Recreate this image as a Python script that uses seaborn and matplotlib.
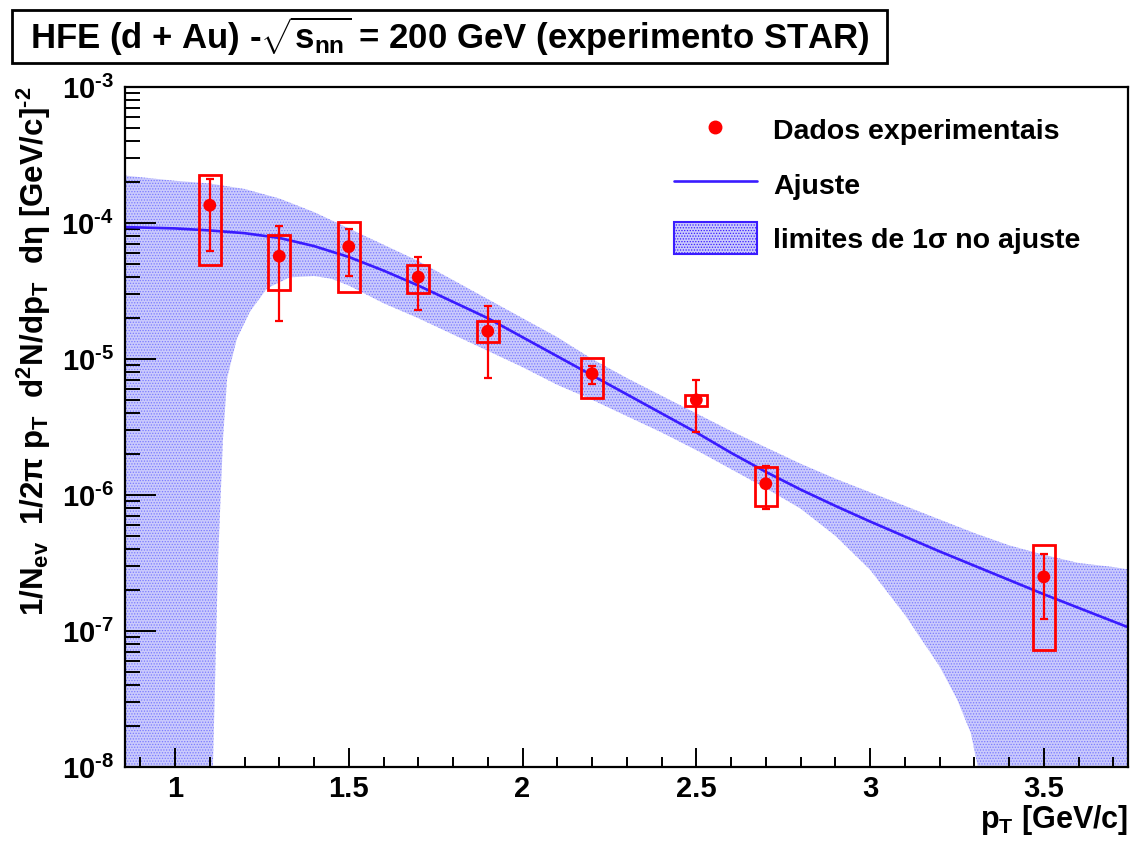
import numpy as np
import pandas as pd
import matplotlib
matplotlib.use('Agg')
import matplotlib.pyplot as plt
from matplotlib.patches import Rectangle, Polygon
from matplotlib.lines import Line2D
from matplotlib.ticker import MultipleLocator, NullFormatter, FuncFormatter, FixedLocator
import seaborn as sns

# ---------------- data ----------------
pt = [1.1, 1.3, 1.5, 1.7, 1.9, 2.2, 2.5, 2.7, 3.5]
yld = [1.35e-4, 5.7e-5, 6.7e-5, 4.0e-5, 1.6e-5, 7.8e-6, 5.0e-6, 1.21e-6, 2.5e-7]
stat_hi = [2.1e-4, 9.5e-5, 9.1e-5, 5.6e-5, 2.45e-5, 8.9e-6, 7.0e-6, 1.62e-6, 3.7e-7]
stat_lo = [6.2e-5, 1.9e-5, 4.1e-5, 2.3e-5, 7.2e-6, 6.5e-6, 2.9e-6, 7.9e-7, 1.23e-7]
sys_hi = [2.24e-4, 8.2e-5, 1.02e-4, 4.9e-5, 1.9e-5, 1.02e-5, 5.4e-6, 1.6e-6, 4.3e-7]
sys_lo = [4.9e-5, 3.2e-5, 3.1e-5, 3.05e-5, 1.33e-5, 5.2e-6, 4.5e-6, 8.3e-7, 7.3e-8]
sys_halfwidth = 0.032

fit_x = [0.85, 1.0, 1.1, 1.2, 1.3, 1.4, 1.5, 1.6, 1.7, 1.8, 1.9, 2.0, 2.1, 2.2, 2.3,
         2.4, 2.5, 2.6, 2.7, 2.8, 2.9, 3.0, 3.1, 3.2, 3.3, 3.4, 3.5, 3.6, 3.7, 3.75]
fit_log = [-4.03, -4.04, -4.055, -4.075, -4.11, -4.17, -4.25, -4.35, -4.46, -4.58,
           -4.70, -4.84, -4.98, -5.12, -5.26, -5.40, -5.54, -5.69, -5.83, -5.96,
           -6.08, -6.195, -6.305, -6.415, -6.52, -6.625, -6.73, -6.83, -6.93, -6.98]
up_log = [-3.65, -3.69, -3.71, -3.75, -3.82, -3.92, -4.04, -4.16, -4.28, -4.42,
          -4.56, -4.70, -4.84, -5.00, -5.14, -5.27, -5.40, -5.53, -5.65, -5.77,
          -5.88, -5.98, -6.08, -6.18, -6.28, -6.37, -6.44, -6.50, -6.53, -6.55]
low_x = [0.85, 1.105, 1.109, 1.124, 1.138, 1.15, 1.178, 1.216, 1.265, 1.33, 1.4, 1.45,
         1.5, 1.6, 1.7, 1.8, 1.9, 2.0, 2.1, 2.2, 2.3, 2.4, 2.5, 2.6, 2.7, 2.8, 2.9,
         3.0, 3.1, 3.2, 3.25, 3.29, 3.31, 3.315, 3.75]
low_log = [-12, -12, -8.0, -6.47, -5.585, -5.14, -4.85, -4.65, -4.48, -4.40, -4.39, -4.41,
           -4.46, -4.59, -4.70, -4.82, -4.94, -5.06, -5.19, -5.30, -5.42, -5.54, -5.67,
           -5.81, -5.95, -6.10, -6.30, -6.55, -6.88, -7.26, -7.50, -7.75, -8.0, -12, -12]

xticks_major = [1, 1.5, 2, 2.5, 3, 3.5]
xtick_labels = ["1", "1.5", "2", "2.5", "3", "3.5"]
ydecades = [-8, -7, -6, -5, -4, -3]

HY = "\u2010"  # short hyphen used in exponents
title = r"HFE (d + Au) -$\mathbf{\sqrt{s_{nn}}}$ = 200 GeV (experimento STAR)"
ylabel = ("1/N$_{\\mathbf{ev}}$  1/2\u03c0 p$_{\\mathbf{T}}$  d$^{\\mathbf{2}}$N/dp$_{\\mathbf{T}}$"
          "  d\u03b7 [GeV/c]$^{\\mathbf{" + HY + "2}}$")
xlabel = r"p$_{\mathbf{T}}$ [GeV/c]"
leg_labels = ["Dados experimentais", "Ajuste", "limites de 1\u03c3 no ajuste"]

# ---------------- style ----------------
sns.set_style("white")
plt.rcParams['font.family'] = ['Liberation Sans', 'DejaVu Sans']
plt.rcParams['font.weight'] = 'bold'
plt.rcParams['text.color'] = 'black'
plt.rcParams['axes.labelcolor'] = 'black'
plt.rcParams['xtick.color'] = 'black'
plt.rcParams['ytick.color'] = 'black'
plt.rcParams['mathtext.fontset'] = 'custom'
plt.rcParams['mathtext.rm'] = 'Liberation Sans:bold'
plt.rcParams['mathtext.bf'] = 'Liberation Sans:bold'
plt.rcParams['mathtext.it'] = 'Liberation Sans:bold:italic'
plt.rcParams['mathtext.sf'] = 'Liberation Sans:bold'
plt.rcParams['hatch.color'] = '#5050ff'
plt.rcParams['hatch.linewidth'] = 0.6

RED = '#ff0000'
BLUE = '#3a1cff'
BANDFACE = '#cacafc'

fig = plt.figure(figsize=(11.32, 8.41), dpi=100)
ax = fig.add_axes([0.1104, 0.088, 0.886, 0.8086])
ax.set_yscale('log')
ax.set_axisbelow(False)

# band
fx = np.array(fit_x)
poly_x = list(fx) + list(low_x[::-1])
poly_y = list(10.0 ** np.array(up_log)) + list(10.0 ** np.array(low_log[::-1]))
band = Polygon(np.column_stack([poly_x, poly_y]), closed=True,
               facecolor=BANDFACE, edgecolor='#7a7aff', hatch='......', linewidth=0, zorder=1)
ax.add_patch(band)

# fit line
fit_df = pd.DataFrame({'pt': fx, 'y': 10.0 ** np.array(fit_log)})
sns.lineplot(data=fit_df, x='pt', y='y', ax=ax, color=BLUE, linewidth=1.9, zorder=3)

# systematic boxes
for x, lo, hi in zip(pt, sys_lo, sys_hi):
    ax.add_patch(Rectangle((x - sys_halfwidth, lo), 2 * sys_halfwidth, hi - lo,
                           facecolor='none', edgecolor=RED, linewidth=2.0, zorder=4))

# stat errors
y = np.array(yld)
ax.errorbar(pt, y, yerr=[y - np.array(stat_lo), np.array(stat_hi) - y], fmt='none',
            ecolor=RED, elinewidth=1.6, capsize=2.6, capthick=1.6, zorder=5)

df = pd.DataFrame({'pt': pt, 'y': yld})
sns.scatterplot(data=df, x='pt', y='y', ax=ax, color=RED, s=85, edgecolor='none', zorder=6)

ax.set_xlim(0.856, 3.742)
ax.set_ylim(1e-8, 1e-3)

# ticks
ax.xaxis.set_major_locator(FixedLocator(xticks_major))
ax.set_xticklabels(xtick_labels)
ax.xaxis.set_minor_locator(MultipleLocator(0.1))
ax.yaxis.set_major_locator(FixedLocator([10.0 ** d for d in ydecades]))
ax.yaxis.set_major_formatter(FuncFormatter(
    lambda v, p: "$\\mathbf{10^{" + HY + "%d}}$" % abs(int(round(np.log10(v))))))
ax.yaxis.set_minor_locator(FixedLocator([m * 10.0 ** d for d in ydecades[:-1] for m in range(2, 10)]))
ax.yaxis.set_minor_formatter(NullFormatter())
ax.tick_params(axis='both', which='both', bottom=True, left=True, top=False, right=False,
               direction='in', width=1.4, color='black')
ax.tick_params(axis='x', which='major', length=14, labelsize=21, pad=6)
ax.tick_params(axis='x', which='minor', length=7)
ax.tick_params(axis='y', which='major', length=22, labelsize=21, pad=8)
ax.tick_params(axis='y', which='minor', length=11)
for lab in ax.get_xticklabels() + ax.get_yticklabels():
    lab.set_fontweight('bold')
for s in ax.spines.values():
    s.set_linewidth(1.6)
    s.set_color('black')
    s.set_zorder(10)

ax.set_xlabel(xlabel, fontsize=22, fontweight='bold', ha='right', va='baseline')
ax.xaxis.set_label_coords(1.0, -0.0897)
ax.set_ylabel(ylabel, loc='top', fontsize=22.5, fontweight='bold')
ax.yaxis.set_label_coords(-0.072, 1.0)

# legend
h_pt = Line2D([], [], linestyle='none', marker='o', color=RED, markersize=9)
h_fit = Line2D([], [], color=BLUE, linewidth=1.9)
h_band = Rectangle((0, 0), 1, 1, facecolor=BANDFACE, edgecolor=BLUE, hatch='......', linewidth=1.5)
ax.legend([h_pt, h_fit, h_band], leg_labels, loc='upper left', bbox_to_anchor=(0.522, 0.998),
          frameon=False, prop={'weight': 'bold', 'size': 20.5},
          handlelength=2.9, handleheight=1.35, handletextpad=0.58, labelspacing=0.78)

# title box
fig.patches.append(Rectangle((12 / 1132, 1 - 63 / 841), 875 / 1132, 53 / 841,
                             transform=fig.transFigure, facecolor='white',
                             edgecolor='black', linewidth=2.0))
fig.text(449.5 / 1132, 1 - 36.5 / 841, title, ha='center', va='center', fontsize=25,
         fontweight='bold')

fig.savefig('out.png', dpi=100)
